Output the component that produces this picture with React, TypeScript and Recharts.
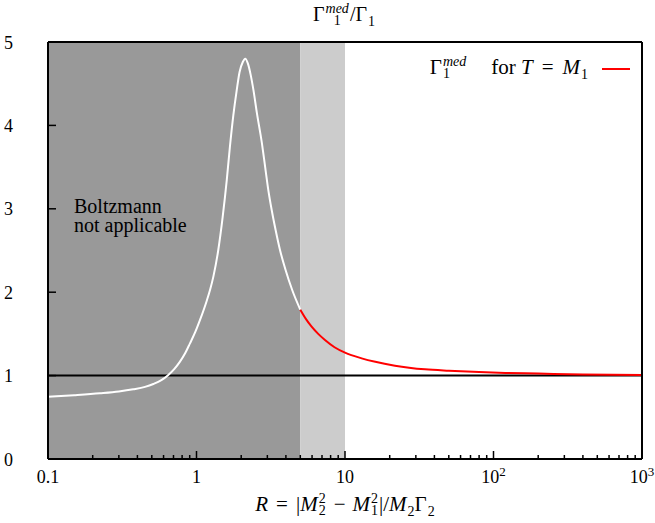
import { LineChart, Line, XAxis, YAxis, ReferenceArea, ReferenceLine } from 'recharts';

// white part of the curve (Boltzmann not applicable region)
const whiteR = [0.1, 0.15, 0.224, 0.3, 0.375, 0.45, 0.512, 0.58, 0.646, 0.71, 0.774, 0.84, 0.904, 0.98, 1.056, 1.171, 1.233, 1.3, 1.4, 1.5, 1.6, 1.68, 1.77, 1.865, 1.95, 2.05, 2.13, 2.22, 2.32, 2.42, 2.55, 2.75, 2.9, 3.045, 3.209, 3.41, 3.65, 3.98, 4.41, 5.0];
const whiteVal = [0.745, 0.765, 0.788, 0.81, 0.836, 0.865, 0.899, 0.945, 1.007, 1.08, 1.167, 1.27, 1.387, 1.52, 1.667, 1.895, 2.026, 2.19, 2.5, 2.9, 3.35, 3.75, 4.12, 4.42, 4.64, 4.76, 4.8, 4.74, 4.6, 4.42, 4.15, 3.8, 3.5, 3.225, 2.986, 2.746, 2.506, 2.266, 2.026, 1.79];

// red part: Gamma_1^med for T = M_1
const redR = [5.0, 5.45, 5.96, 6.6, 7.33, 8.5, 10, 12.95, 16, 21.7, 34.6, 50, 80, 120, 200, 400, 1000];
const redVal = [1.79, 1.68, 1.586, 1.5, 1.427, 1.34, 1.275, 1.207, 1.165, 1.119, 1.075, 1.058, 1.042, 1.032, 1.024, 1.013, 1.006];

const xMajor = [0.1, 1, 10, 100, 1000];
const xMajorLabels = [['0.1', ''], ['1', ''], ['10', ''], ['10', '2'], ['10', '3']];
const yTicks = [0, 1, 2, 3, 4, 5];

const boltzmannEnd = 5;
const lightEnd = 10;

const whiteData = whiteR.map((r, i) => ({ r, v: whiteVal[i] }));
const redData = redR.map((r, i) => ({ r, v: redVal[i] }));

const xMinor: number[] = [];
xMajor.slice(0, -1).forEach((d) => {
  for (let k = 2; k <= 9; k++) xMinor.push(d * k);
});
const xAllTicks = [...xMajor, ...xMinor].sort((a, b) => a - b);

const FONT = "'Liberation Serif', Tinos, 'Times New Roman', Times, 'DejaVu Serif', 'Noto Serif', serif";

const majorIndex = (v: number) => xMajor.findIndex((t) => Math.abs(t - v) / v < 1e-6);

const BottomTick = (props: any) => {
  const { x, y, payload } = props;
  const idx = majorIndex(payload.value);
  const major = idx >= 0;
  return (
    <g>
      <line x1={x} x2={x} y1={y} y2={y - (major ? 8 : 4)} stroke="#000" strokeWidth={1.5} />
      {major && (
        <text x={x} y={y + 24} textAnchor="middle" fontFamily={FONT} fontSize={18} fill="#000">
          <tspan>{xMajorLabels[idx][0]}</tspan>
          {xMajorLabels[idx][1] && (
            <tspan dy={-7} fontSize={13}>
              {xMajorLabels[idx][1]}
            </tspan>
          )}
        </text>
      )}
    </g>
  );
};

const TopTick = (props: any) => {
  const { x, y, payload } = props;
  const major = majorIndex(payload.value) >= 0;
  return <line x1={x} x2={x} y1={y} y2={y + (major ? 8 : 4)} stroke="#000" strokeWidth={1.5} />;
};

const LeftTick = (props: any) => {
  const { x, y, payload } = props;
  return (
    <g>
      <line x1={x} x2={x + 8} y1={y} y2={y} stroke="#000" strokeWidth={1.5} />
      <text x={x - 35} y={y + 6.5} textAnchor="end" fontFamily={FONT} fontSize={18} fill="#000">
        {payload.value}
      </text>
    </g>
  );
};

// superscript stacked over subscript
const Stack = ({ sup, sub, italicSup = true }: { sup: string; sub: string; italicSup?: boolean }) => (
  <span
    style={{
      display: 'inline-flex',
      flexDirection: 'column',
      fontSize: 14,
      lineHeight: '12px',
      verticalAlign: 8,
      marginLeft: 1,
      marginRight: 1,
    }}
  >
    <span style={{ fontStyle: italicSup ? 'italic' : 'normal' }}>{sup}</span>
    <span>{sub}</span>
  </span>
);

const Sub = ({ children }: { children: string }) => (
  <span style={{ fontSize: 14, verticalAlign: -5, marginLeft: 1 }}>{children}</span>
);

const Op = ({ children, gap = 6 }: { children: string; gap?: number }) => (
  <span style={{ margin: `0 ${gap}px` }}>{children}</span>
);

export default function App() {
  return (
    <div style={{ position: 'absolute', left: 0, top: 0, width: 655, height: 523, background: '#fff', fontFamily: FONT }}>
      <LineChart width={655} height={523} margin={{ top: 0, right: 0, bottom: 0, left: 0 }}>
        <ReferenceArea x1={0.1} x2={boltzmannEnd} y1={0} y2={5} fill="#999999" fillOpacity={1} stroke="none" />
        <ReferenceArea x1={boltzmannEnd} x2={lightEnd} y1={0} y2={5} fill="#cccccc" fillOpacity={1} stroke="none" />
        <XAxis
          dataKey="r"
          type="number"
          scale="log"
          domain={[0.1, 1000]}
          allowDataOverflow
          ticks={xAllTicks}
          interval={0}
          height={64}
          tickSize={0}
          tickMargin={0}
          tickLine={false}
          tick={BottomTick}
          axisLine={{ stroke: '#000', strokeWidth: 2 }}
        />
        <XAxis
          xAxisId="top"
          orientation="top"
          type="number"
          scale="log"
          domain={[0.1, 1000]}
          allowDataOverflow
          ticks={xAllTicks}
          interval={0}
          height={42}
          tickSize={0}
          tickMargin={0}
          tickLine={false}
          tick={TopTick}
          axisLine={{ stroke: '#000', strokeWidth: 2 }}
        />
        <YAxis
          type="number"
          domain={[0, 5]}
          ticks={yTicks}
          interval={0}
          width={48}
          tickSize={0}
          tickMargin={0}
          tickLine={false}
          tick={LeftTick}
          axisLine={{ stroke: '#000', strokeWidth: 2 }}
        />
        <YAxis
          yAxisId="right"
          orientation="right"
          type="number"
          domain={[0, 5]}
          width={13}
          tick={false}
          tickLine={false}
          axisLine={{ stroke: '#000', strokeWidth: 2 }}
        />
        <ReferenceLine y={1} stroke="#000" strokeWidth={2} />
        <Line
          data={whiteData}
          dataKey="v"
          type="monotone"
          stroke="#ffffff"
          strokeWidth={2}
          dot={false}
          isAnimationActive={false}
        />
        <Line
          data={redData}
          dataKey="v"
          type="monotone"
          stroke="#ff0000"
          strokeWidth={2}
          dot={false}
          isAnimationActive={false}
        />
      </LineChart>

      {/* title */}
      <div style={{ position: 'absolute', left: 244, width: 200, top: 3, textAlign: 'center', fontSize: 20, lineHeight: '22px', whiteSpace: 'nowrap' }}>
        Γ<Stack sup="med" sub="1" />/Γ<Sub>1</Sub>
      </div>

      {/* legend */}
      <div style={{ position: 'absolute', right: 67, top: 56, fontSize: 21, lineHeight: '22px', whiteSpace: 'nowrap' }}>
        Γ<Stack sup="med" sub="1" />
        <span style={{ marginLeft: 24 }}>for </span>
        <i>T</i>
        <Op gap={9}>=</Op>
        <i>M</i>
        <Sub>1</Sub>
      </div>
      <div style={{ position: 'absolute', left: 602, top: 68, width: 28, height: 2, background: '#ff0000' }} />

      {/* annotation */}
      <div style={{ position: 'absolute', left: 74, top: 197, fontSize: 20, lineHeight: '19px' }}>
        Boltzmann
        <br />
        not applicable
      </div>

      {/* x axis label */}
      <div style={{ position: 'absolute', left: 145, width: 400, top: 493, textAlign: 'center', fontSize: 21, lineHeight: '22px', whiteSpace: 'nowrap' }}>
        <i>R</i>
        <Op gap={8}>=</Op>|<i>M</i>
        <Stack sup="2" sub="2" italicSup={false} />
        <Op gap={7}>−</Op>
        <i>M</i>
        <Stack sup="2" sub="1" italicSup={false} />
        |/<i>M</i>
        <Sub>2</Sub>Γ<Sub>2</Sub>
      </div>
    </div>
  );
}
